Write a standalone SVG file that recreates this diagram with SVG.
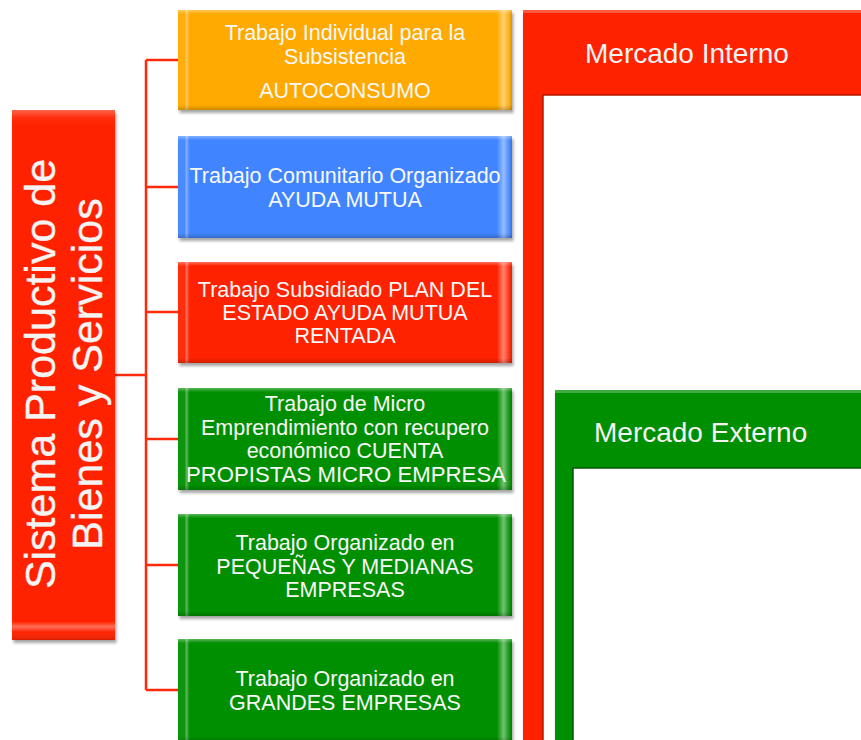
<svg xmlns="http://www.w3.org/2000/svg" width="861" height="740" viewBox="0 0 861 740">
<defs>
<filter id="sh" x="-10%" y="-10%" width="120%" height="130%">
<feDropShadow dx="1.5" dy="3" stdDeviation="1.8" flood-color="#000" flood-opacity="0.35"/>
</filter>
<filter id="ish" x="-5%" y="-5%" width="110%" height="110%">
<feDropShadow dx="2" dy="2" stdDeviation="2" flood-color="#000" flood-opacity="0.4"/>
</filter>
<linearGradient id="bvH" x1="0" y1="0" x2="1" y2="0">
<stop offset="0" stop-color="#fff" stop-opacity="0.05"/>
<stop offset="0.02" stop-color="#fff" stop-opacity="0.05"/>
<stop offset="0.025" stop-color="#fff" stop-opacity="0.35"/>
<stop offset="0.035" stop-color="#fff" stop-opacity="0"/>
<stop offset="0.955" stop-color="#fff" stop-opacity="0"/>
<stop offset="0.975" stop-color="#fff" stop-opacity="0.45"/>
<stop offset="0.99" stop-color="#fff" stop-opacity="0.1"/>
<stop offset="1" stop-color="#000" stop-opacity="0.15"/>
</linearGradient>
<linearGradient id="bvV" x1="0" y1="0" x2="0" y2="1">
<stop offset="0" stop-color="#fff" stop-opacity="0.35"/>
<stop offset="0.04" stop-color="#fff" stop-opacity="0"/>
<stop offset="0.95" stop-color="#000" stop-opacity="0"/>
<stop offset="1" stop-color="#000" stop-opacity="0.2"/>
</linearGradient>
<linearGradient id="bvTall" x1="0" y1="0" x2="0" y2="1">
<stop offset="0" stop-color="#fff" stop-opacity="0.3"/>
<stop offset="0.015" stop-color="#fff" stop-opacity="0.05"/>
<stop offset="0.03" stop-color="#fff" stop-opacity="0"/>
<stop offset="0.965" stop-color="#fff" stop-opacity="0"/>
<stop offset="0.975" stop-color="#fff" stop-opacity="0.35"/>
<stop offset="0.985" stop-color="#fff" stop-opacity="0"/>
<stop offset="1" stop-color="#000" stop-opacity="0.15"/>
</linearGradient>
</defs>
<style>
.t{font-family:"Liberation Sans",Arial,sans-serif;font-size:21.5px;fill:#f8f8f8;text-anchor:middle}
.big{font-family:"Liberation Sans",Arial,sans-serif;font-size:43px;fill:#f4f4f4;text-anchor:middle;stroke:#f4f4f4;stroke-width:0.4}
.mk{font-family:"Liberation Sans",Arial,sans-serif;font-size:28px;fill:#f4f4f4}
.ln{stroke:#ff2a0a;stroke-width:2.5;fill:none}
.hl{fill:#fff;fill-opacity:0.25}
</style>
<rect width="861" height="740" fill="#fff"/>

<g id="mercado-interno">
<rect x="523" y="10" width="345" height="740" fill="#ff2400" filter="url(#sh)"/>
<rect class="hl" x="523" y="10" width="345" height="3"/>
<rect x="543" y="95" width="330" height="660" fill="#fff" filter="url(#ish)"/>
<path d="M543 740 V95 H861" stroke="#b81800" stroke-width="1.5" fill="none"/>
<text class="mk" x="585" y="63">Mercado Interno</text>
</g>

<g id="mercado-externo">
<rect x="555" y="390" width="315" height="360" fill="#008f00" filter="url(#sh)"/>
<rect class="hl" x="555" y="390" width="315" height="3"/>
<rect x="573" y="468" width="300" height="290" fill="#fff" filter="url(#ish)"/>
<path d="M573 740 V468 H861" stroke="#005800" stroke-width="1.5" fill="none"/>
<text class="mk" x="594" y="442">Mercado Externo</text>
</g>

<g id="connectors">
<path class="ln" d="M146 60 V690"/>
<path class="ln" d="M115 375 H146"/>
<path class="ln" d="M146 60 H178"/>
<path class="ln" d="M146 187 H178"/>
<path class="ln" d="M146 312 H178"/>
<path class="ln" d="M146 439 H178"/>
<path class="ln" d="M146 565 H178"/>
<path class="ln" d="M146 690 H178"/>
</g>

<g id="sistema">
<rect x="12" y="110" width="103" height="530" fill="#ff2400" filter="url(#sh)"/>
<rect x="12" y="110" width="103" height="530" fill="url(#bvTall)"/>
<text class="big" transform="translate(55,374) rotate(-90)">Sistema Productivo de</text>
<text class="big" transform="translate(102,374) rotate(-90)">Bienes y Servicios</text>
</g>

<g id="autoconsumo">
<rect x="178" y="10" width="334" height="100" fill="#ffaa00" filter="url(#sh)"/>
<rect x="178" y="10" width="334" height="100" fill="url(#bvH)"/>
<rect x="178" y="10" width="334" height="100" fill="url(#bvV)"/>
<text class="t" x="345" y="40">Trabajo Individual para la</text>
<text class="t" x="345" y="64">Subsistencia</text>
<text class="t" x="345" y="98">AUTOCONSUMO</text>
</g>

<g id="ayuda-mutua">
<rect x="178" y="136" width="334" height="102" fill="#4085ff" filter="url(#sh)"/>
<rect x="178" y="136" width="334" height="102" fill="url(#bvH)"/>
<rect x="178" y="136" width="334" height="102" fill="url(#bvV)"/>
<text class="t" x="345" y="183">Trabajo Comunitario Organizado</text>
<text class="t" x="345" y="207">AYUDA MUTUA</text>
</g>

<g id="subsidiado">
<rect x="178" y="262" width="334" height="101" fill="#ff2400" filter="url(#sh)"/>
<rect x="178" y="262" width="334" height="101" fill="url(#bvH)"/>
<rect x="178" y="262" width="334" height="101" fill="url(#bvV)"/>
<text class="t" x="345" y="297">Trabajo Subsidiado PLAN DEL</text>
<text class="t" x="345" y="320">ESTADO AYUDA MUTUA</text>
<text class="t" x="345" y="343">RENTADA</text>
</g>

<g id="micro-emprendimiento">
<rect x="178" y="388" width="334" height="102" fill="#008f00" filter="url(#sh)"/>
<rect x="178" y="388" width="334" height="102" fill="url(#bvH)"/>
<rect x="178" y="388" width="334" height="102" fill="url(#bvV)"/>
<text class="t" x="345" y="411">Trabajo de Micro</text>
<text class="t" x="345" y="434.5">Emprendimiento con recupero</text>
<text class="t" x="345" y="458">económico CUENTA</text>
<text class="t" x="346" y="481.5" textLength="320" lengthAdjust="spacingAndGlyphs">PROPISTAS MICRO EMPRESA</text>
</g>

<g id="pymes">
<rect x="178" y="514" width="334" height="102" fill="#008f00" filter="url(#sh)"/>
<rect x="178" y="514" width="334" height="102" fill="url(#bvH)"/>
<rect x="178" y="514" width="334" height="102" fill="url(#bvV)"/>
<text class="t" x="345" y="550">Trabajo Organizado en</text>
<text class="t" x="345" y="573.5">PEQUEÑAS Y MEDIANAS</text>
<text class="t" x="345" y="597">EMPRESAS</text>
</g>

<g id="grandes-empresas">
<rect x="178" y="639" width="334" height="103" fill="#008f00" filter="url(#sh)"/>
<rect x="178" y="639" width="334" height="103" fill="url(#bvH)"/>
<rect x="178" y="639" width="334" height="103" fill="url(#bvV)"/>
<text class="t" x="345" y="686">Trabajo Organizado en</text>
<text class="t" x="345" y="710">GRANDES EMPRESAS</text>
</g>
</svg>
